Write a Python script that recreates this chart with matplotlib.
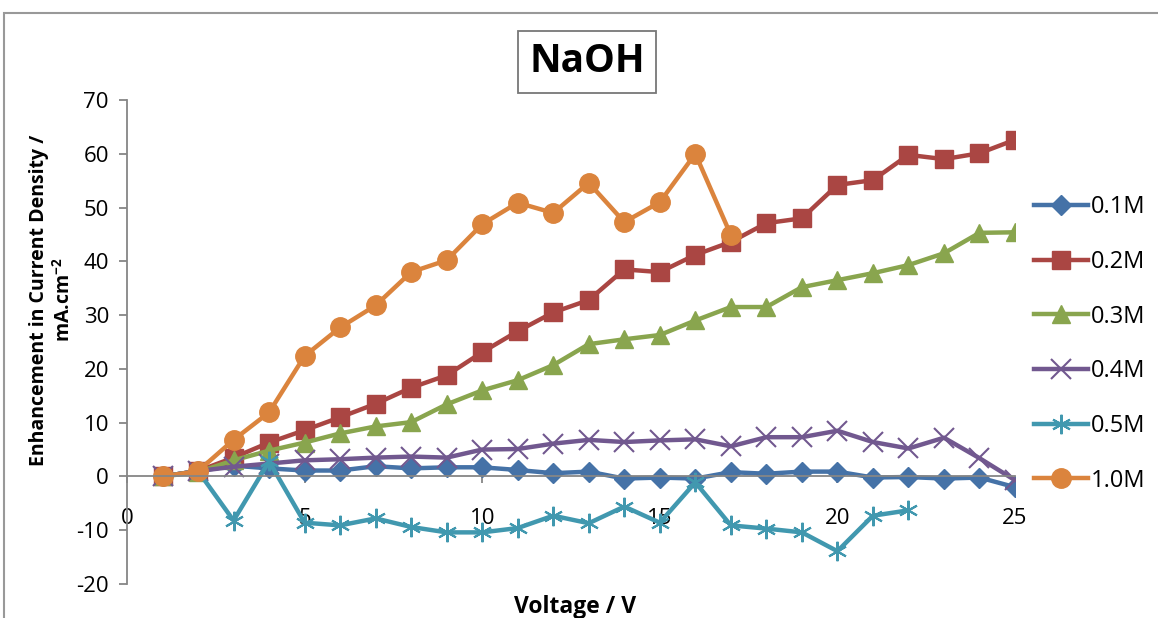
import matplotlib.pyplot as plt
from matplotlib.patches import Rectangle

# voltage steps (V)
voltage = list(range(1, 26))

# enhancement in current density, mA/cm2
naoh_01 = [0, 1.0, 2.0, 1.5, 1.1, 1.1, 1.9, 1.5, 1.7, 1.7, 1.2, 0.6, 0.9, -0.4, -0.2,
           -0.4, 0.8, 0.5, 0.9, 0.9, -0.2, -0.1, -0.4, -0.2, -2.0]
naoh_02 = [0, 1.0, 3.5, 6.3, 8.6, 11.0, 13.5, 16.5, 18.8, 23.1, 27.0, 30.5, 32.8, 38.5, 38.0,
           41.2, 43.6, 47.1, 48.0, 54.2, 55.1, 59.8, 59.0, 60.1, 62.6]
naoh_03 = [0, 0.8, 3.0, 4.8, 6.3, 8.0, 9.3, 10.1, 13.4, 16.0, 17.9, 20.7, 24.6, 25.5, 26.3,
           29.0, 31.5, 31.5, 35.2, 36.5, 37.8, 39.3, 41.5, 45.3, 45.4]
naoh_04 = [0, 1.0, 1.8, 2.4, 3.0, 3.2, 3.5, 3.7, 3.5, 5.0, 5.1, 6.1, 6.8, 6.4, 6.7,
           6.9, 5.6, 7.3, 7.3, 8.5, 6.4, 5.2, 7.2, 3.4, -0.7]
volt_05 = voltage[:22]
naoh_05 = [0, 1.0, -8.2, 2.8, -8.6, -9.1, -7.8, -9.4, -10.4, -10.4, -9.6, -7.3, -8.7, -5.6, -8.6,
           -1.1, -9.1, -9.7, -10.4, -13.9, -7.3, -6.3]
volt_10 = voltage[:17]
naoh_10 = [0, 1.0, 6.8, 11.9, 22.4, 27.7, 31.8, 38.0, 40.2, 46.9, 50.9, 49.0, 54.6, 47.3, 51.0,
           60.0, 44.9]

plt.rcParams['font.family'] = ['Open Sans', 'DejaVu Sans']
plt.rcParams['axes.unicode_minus'] = False
plt.rcParams['mathtext.fontset'] = 'custom'
plt.rcParams['mathtext.rm'] = 'Open Sans'
plt.rcParams['mathtext.bf'] = 'Open Sans:bold'

fig = plt.figure(figsize=(11.58, 6.18), dpi=100)
ax = fig.add_axes([127 / 1158, 34 / 618, 888 / 1158, 484 / 618])

ax.plot(voltage, naoh_01, color='#4572A7', lw=3.2, marker='D', ms=10, label='0.1M')
ax.plot(voltage, naoh_02, color='#AA4643', lw=3.2, marker='s', ms=13, label='0.2M')
ax.plot(voltage, naoh_03, color='#89A54E', lw=3.2, marker='^', ms=13, label='0.3M')
ax.plot(voltage, naoh_04, color='#71588F', lw=3.2, marker='x', ms=14, mew=1.5, label='0.4M')
ax.plot(volt_05, naoh_05, color='#4198AF', lw=3.2, marker=(6, 2, 0), ms=14, mew=1.5, label='0.5M')
ax.plot(volt_10, naoh_10, color='#DB843D', lw=3.2, marker='o', ms=14, label='1.0M')

ax.set_xlim(0, 25)
ax.set_ylim(-20, 70)
ax.set_xticks(range(0, 26, 5))
ax.set_yticks(range(-20, 71, 10))

for s in ['top', 'right']:
    ax.spines[s].set_visible(False)
ax.spines['bottom'].set_position(('data', 0))
ax.spines['left'].set_color('#868686')
ax.spines['bottom'].set_color('#868686')
ax.spines['left'].set_linewidth(1.3)
ax.spines['bottom'].set_linewidth(1.3)
ax.tick_params(axis='y', direction='out', length=6, width=1.3, color='#868686',
               labelsize=16, pad=7)
ax.tick_params(axis='x', direction='out', length=5, width=1.3, color='#868686',
               labelsize=16, pad=18)

ax.legend(loc='upper left', bbox_to_anchor=(1.0106, 0.823), frameon=False, fontsize=17,
          handlelength=2.3, labelspacing=1.3, handletextpad=0.1, borderaxespad=0)

fig.text(52 / 1158, 1 - 300 / 618, 'Enhancement in Current Density /\nmA.cm$^{\\mathbf{-2}}$',
         rotation=90, ha='center', va='center', fontsize=14, fontweight='bold',
         multialignment='center')
fig.text(575 / 1158, 1 - 607 / 618, 'Voltage / V', ha='center', va='center',
         fontsize=16.5, fontweight='bold')
fig.text(587 / 1158, 1 - 62 / 618, 'NaOH', ha='center', va='center', fontsize=28,
         fontweight='bold',
         bbox=dict(boxstyle='square,pad=0.3', fc='white', ec='#777777', lw=1.3))

fig.patches.append(Rectangle((4 / 1158, -0.1), 2, 1.1 - 13 / 618, transform=fig.transFigure,
                             fill=False, edgecolor='#999999', lw=1.5))

fig.savefig('out.png', dpi=100)
